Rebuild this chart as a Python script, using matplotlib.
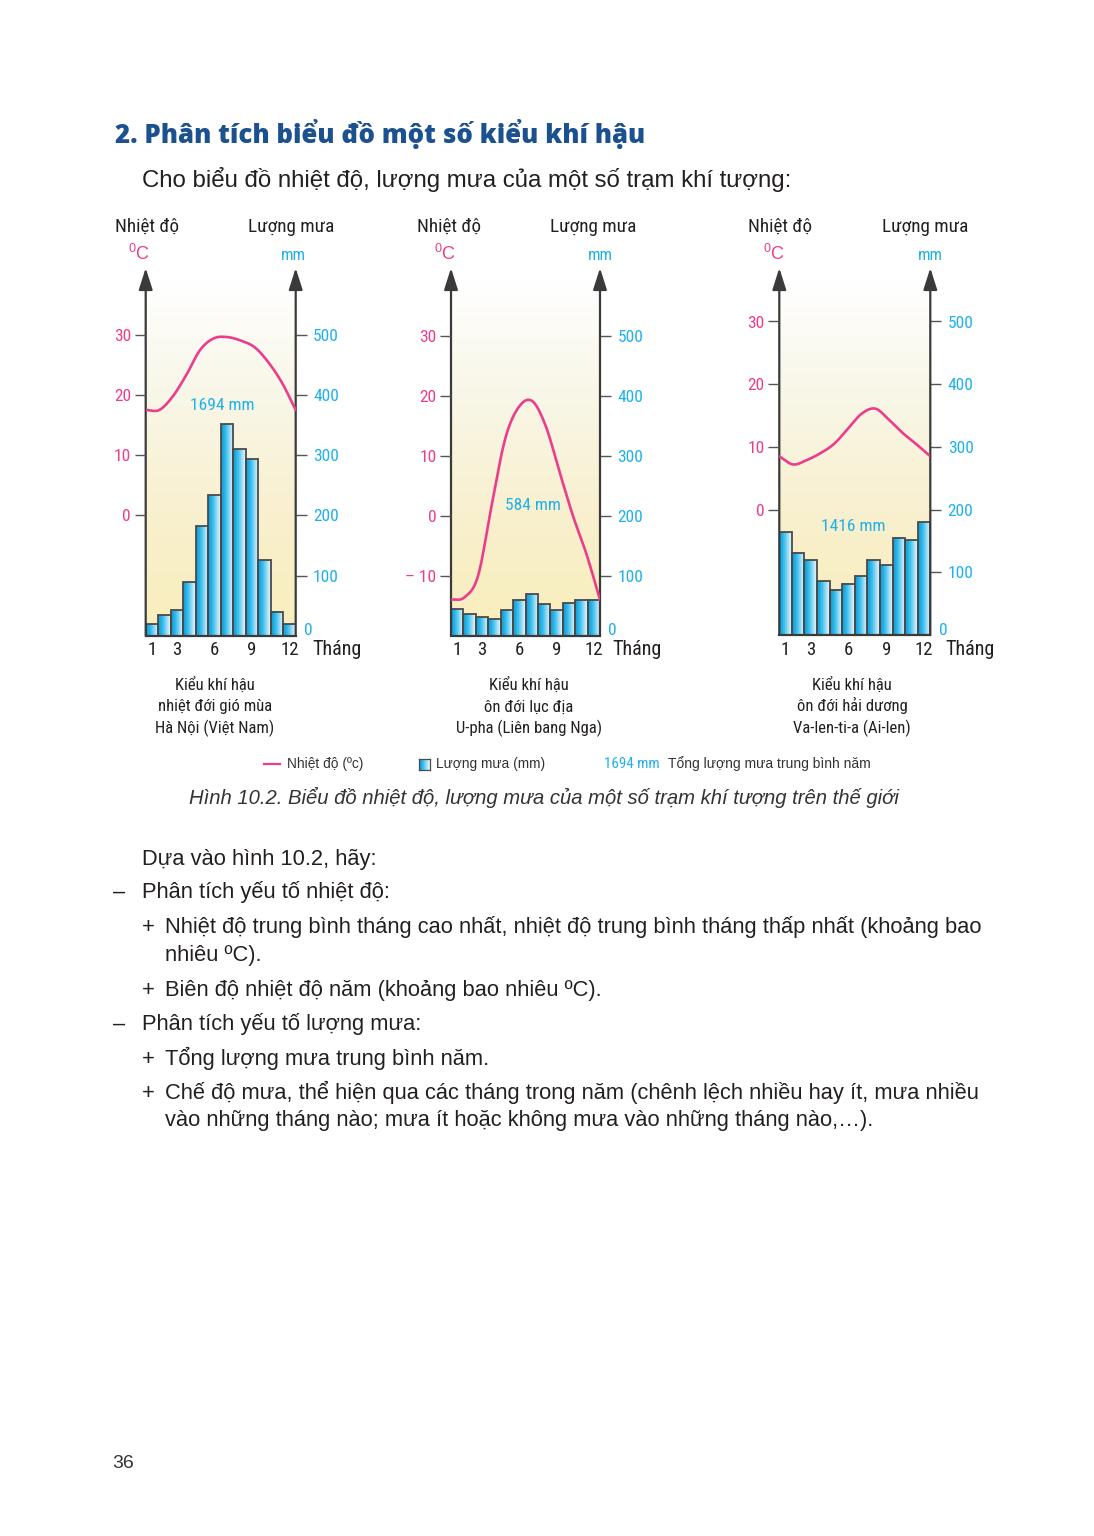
import numpy as np
import matplotlib
matplotlib.use('Agg')
import matplotlib.pyplot as plt
from matplotlib.colors import LinearSegmentedColormap
from matplotlib.lines import Line2D

# ---------------- data ----------------
months = list(range(1, 13))
month_tick_labels = [1, 3, 6, 9, 12]
rain_ticks = [100, 200, 300, 400, 500]

hanoi_rain = [19, 34, 43, 89, 182, 234, 352, 310, 293, 125, 40, 19]
hanoi_temp = [17.5, 17.5, 19.8, 23.4, 27.5, 29.4, 29.6, 29.0, 27.9, 25.4, 22.0, 17.5]
hanoi_temp_ticks = [0, 10, 20, 30]

upha_rain = [44, 36, 31, 28, 42, 60, 69, 52, 43, 54, 60, 59]
upha_temp = [-14.0, -13.6, -10.0, 1.7, 12.8, 18.1, 19.1, 14.9, 7.4, 0.0, -6.4, -14.0]
upha_temp_ticks = [-10, 0, 10, 20, 30]

valentia_rain = [164, 131, 119, 86, 72, 82, 94, 119, 111, 155, 151, 180]
valentia_temp = [8.5, 7.2, 7.9, 9.0, 10.5, 12.9, 15.3, 16.1, 14.3, 12.2, 10.4, 8.5]
valentia_temp_ticks = [0, 10, 20, 30]

totals = ['1694 mm', '584 mm', '1416 mm']
captions = [['Kiểu khí hậu', 'nhiệt đới gió mùa', 'Hà Nội (Việt Nam)'],
            ['Kiểu khí hậu', 'ôn đới lục địa', 'U-pha (Liên bang Nga)'],
            ['Kiểu khí hậu', 'ôn đới hải dương', 'Va-len-ti-a (Ai-len)']]

# ---------------- style ----------------
W, H = 1094, 1536
PINK = '#ec3d8c'
CYAN = '#1fb1ea'
DARK = '#231f20'
AXC = '#3a3a3a'
NARROW = ['Roboto Condensed', 'Liberation Sans Narrow', 'Roboto', 'DejaVu Sans']
SANS = ['Liberation Sans', 'DejaVu Sans']

plt.rcParams['font.family'] = SANS
plt.rcParams['mathtext.fontset'] = 'custom'
plt.rcParams['mathtext.rm'] = 'Liberation Sans'

fig = plt.figure(figsize=(W / 100, H / 100), dpi=100)
fig.patch.set_facecolor('white')


def T(x, y, s, **kw):
    return fig.text(x / W, 1 - y / H, s, **kw)


bg_cmap = LinearSegmentedColormap.from_list(
    'bg', [(0, '#f9eebb'), (0.35, '#f8f0cf'), (0.7, '#f9f7e9'), (1, '#ffffff')])
bar_cmap = LinearSegmentedColormap.from_list(
    'bar', [(0, '#1294d2'), (0.35, '#2ebcec'), (0.7, '#9fdcf3'), (1, '#eef9fd')])


def smooth(xs, ys, n=24):
    pts = np.column_stack([xs, ys])
    P = np.vstack([2 * pts[0] - pts[1], pts, 2 * pts[-1] - pts[-2]])
    out = []
    t = np.linspace(0, 1, n, endpoint=False)[:, None]
    for i in range(1, len(P) - 2):
        p0, p1, p2, p3 = P[i - 1], P[i], P[i + 1], P[i + 2]
        out.append(0.5 * ((2 * p1) + (-p0 + p2) * t + (2 * p0 - 5 * p1 + 4 * p2 - p3) * t ** 2
                          + (-p0 + 3 * p1 - 3 * p2 + p3) * t ** 3))
    out.append(P[-2][None, :])
    return np.vstack(out)


def draw_chart(geom, rain, temp, temp_ticks, total, total_xy, caption, hdr):
    l, r, b, t, scale10 = geom
    ax = fig.add_axes([l / W, 1 - b / H, (r - l) / W, (b - t) / H])
    axt = ax.twinx()
    ttop = -20 + (b - t) / scale10 * 10
    rtop = (ttop + 20) * 10
    ax.patch.set_visible(False)
    # background gradient
    grad = np.linspace(0, 1, 256)[:, None]
    bgtop = (b - 280) / (b - t) * rtop
    ax.imshow(grad, extent=[0, 12, 0, bgtop], origin='lower', aspect='auto', cmap=bg_cmap, zorder=0)
    # bars
    xs = np.arange(12) + 0.5
    bars = ax.bar(xs, rain, width=1.0, facecolor='none', edgecolor='#4a4a4a', lw=1.3, zorder=3)
    hg = np.linspace(0, 1, 64)[None, :]
    for bar in bars:
        x0 = bar.get_x()
        ax.imshow(hg, extent=[x0, x0 + bar.get_width(), 0, bar.get_height()], origin='lower',
                  aspect='auto', cmap=bar_cmap, zorder=2)
    ax.set_xlim(0, 12)
    ax.set_ylim(0, rtop)
    # rain axis on right
    ax.yaxis.tick_right()
    ax.set_yticks(rain_ticks)
    ax.set_yticklabels([str(v) for v in rain_ticks], color=CYAN, fontsize=12.5, family=NARROW)
    ax.tick_params(axis='y', direction='out', length=8, width=1, color='#555555', pad=4.5)
    ax.set_xticks([m - 0.5 for m in month_tick_labels])
    ax.set_xticklabels([str(m) for m in month_tick_labels], fontsize=13.5, family=NARROW, color=DARK)
    ax.tick_params(axis='x', length=0, pad=4)
    for s in ['top', 'left', 'right']:
        ax.spines[s].set_visible(False)
    ax.spines['bottom'].set_color(AXC)
    ax.spines['bottom'].set_linewidth(1.6)
    ax.spines['bottom'].set_zorder(5)
    # temperature axis on left
    axt.set_ylim(-20, ttop)
    axt.set_xlim(0, 12)
    axt.yaxis.tick_left()
    axt.set_yticks(temp_ticks)
    axt.set_yticklabels([('– ' + str(-v)) if v < 0 else str(v) for v in temp_ticks],
                        color=PINK, fontsize=12.5, family=NARROW)
    axt.tick_params(axis='y', direction='out', length=8, width=1, color='#555555', pad=2.5)
    for s in axt.spines.values():
        s.set_visible(False)
    tx = np.linspace(0, 12, len(temp))
    c = smooth(tx, temp)
    axt.plot(c[:, 0], c[:, 1], color=PINK, lw=1.9, zorder=4, solid_capstyle='round')
    # axis lines with arrows
    for xf in (0, 1):
        ax.annotate('', xy=(xf, 1), xytext=(xf, 0), xycoords='axes fraction',
                    arrowprops=dict(arrowstyle='-|>,head_length=1.1,head_width=0.35', lw=1.6,
                                    color=AXC, shrinkA=0, shrinkB=0, mutation_scale=12),
                    annotation_clip=False, zorder=6)
    # labels around
    ax.annotate('0', xy=(1, 0), xycoords='axes fraction', xytext=(6, 3.5),
                textcoords='offset points', ha='left', va='center', color=CYAN,
                fontsize=12.5, family=NARROW)
    T(total_xy[0], total_xy[1], total, color=CYAN, fontsize=12.5, family=NARROW,
      ha='center', va='center')
    hx1, hx2, cx, mx, thx, capx = hdr
    T(hx1, 232, 'Nhiệt độ', fontsize=13.8, family=NARROW, color=DARK, va='baseline')
    T(hx2, 232, 'Lượng mưa', fontsize=13.8, family=NARROW, color=DARK, va='baseline')
    T(cx, 254, r'$^{0}$C', fontsize=13, color=PINK, ha='center', va='center')
    T(mx, 255, 'mm', fontsize=12, color=CYAN, ha='center', va='center', family=NARROW)
    T(thx, 649, 'Tháng', fontsize=14.5, family=NARROW, color=DARK, va='center')
    for line, yb in zip(caption, (690, 711.5, 733)):
        T(capx, yb, line, fontsize=12, family=NARROW, color=DARK, ha='center', va='baseline')


draw_chart((145.7, 295.7, 635.7, 268, 60.2), hanoi_rain, hanoi_temp, hanoi_temp_ticks,
           totals[0], (222, 405), captions[0], (115, 248, 139, 293, 312, 215))
draw_chart((451, 600, 635.7, 268, 60.0), upha_rain, upha_temp, upha_temp_ticks,
           totals[1], (533, 505), captions[1], (417, 550, 445, 600, 612, 529))
draw_chart((779.3, 930.3, 635, 268, 62.7), valentia_rain, valentia_temp, valentia_temp_ticks,
           totals[2], (853, 526), captions[2], (748, 882, 774, 930, 945, 852))

# ---------------- page text ----------------
T(115, 143, '2. Phân tích biểu đồ một số kiểu khí hậu', fontsize=18.5,
  family=['Open Sans', 'DejaVu Sans'], weight='heavy', color='#1c5190', va='baseline')
T(142, 187, 'Cho biểu đồ nhiệt độ, lượng mưa của một số trạm khí tượng:', fontsize=17.3,
  color=DARK, va='baseline')

# legend row
fig.add_artist(Line2D([264 / W, 280 / W], [1 - 764 / H] * 2, color=PINK, lw=1.6))
T(287, 764, 'Nhiệt độ (ºc)', fontsize=9.9, color='#333333', va='center')
lax = fig.add_axes([419 / W, 1 - 770 / H, 11 / W, 11 / H])
lax.imshow(np.linspace(0, 1, 32)[None, :], aspect='auto', cmap=bar_cmap)
lax.set_xticks([]); lax.set_yticks([])
for s in lax.spines.values():
    s.set_color('#4a4a4a'); s.set_linewidth(0.9)
T(436, 764, 'Lượng mưa (mm)', fontsize=9.9, color='#333333', va='center')
T(604, 764, totals[0], fontsize=10.8, color=CYAN, va='center', family=NARROW)
T(668, 764, 'Tổng lượng mưa trung bình năm', fontsize=10, color='#333333', va='center')

T(544, 797, 'Hình 10.2. Biểu đồ nhiệt độ, lượng mưa của một số trạm khí tượng trên thế giới',
  fontsize=14.6, style='italic', color='#333333', ha='center', va='center')

body = [
    (142, 865, 'Dựa vào hình 10.2, hãy:'),
    (113, 898, '–'), (142, 898, 'Phân tích yếu tố nhiệt độ:'),
    (142, 933, '+'), (165, 933, 'Nhiệt độ trung bình tháng cao nhất, nhiệt độ trung bình tháng thấp nhất (khoảng bao'),
    (165, 961, 'nhiêu ºC).'),
    (142, 996, '+'), (165, 996, 'Biên độ nhiệt độ năm (khoảng bao nhiêu ºC).'),
    (113, 1030, '–'), (142, 1030, 'Phân tích yếu tố lượng mưa:'),
    (142, 1065, '+'), (165, 1065, 'Tổng lượng mưa trung bình năm.'),
    (142, 1099, '+'), (165, 1099, 'Chế độ mưa, thể hiện qua các tháng trong năm (chênh lệch nhiều hay ít, mưa nhiều'),
    (165, 1126, 'vào những tháng nào; mưa ít hoặc không mưa vào những tháng nào,…).'),
]
for x, y, s in body:
    T(x, y, s, fontsize=15.75, color=DARK, va='baseline')

T(112, 1464, '36', fontsize=14, color='#333333', va='center')

fig.savefig('out.png', dpi=100, facecolor='white')
